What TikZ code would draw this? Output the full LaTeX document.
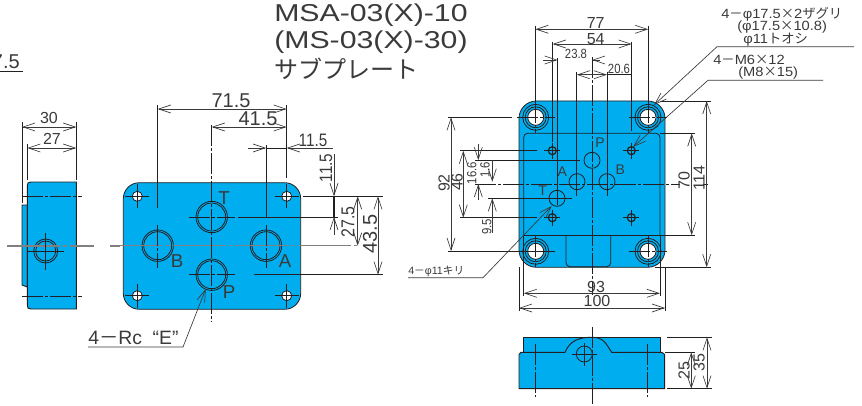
\documentclass[tikz,border=0pt]{standalone}
\usepackage{fontspec}
\setmainfont{Liberation Sans}
\newfontfamily\jpfont{Noto Sans CJK JP}
\newfontfamily\widefont[FakeStretch=1.24]{Liberation Sans}
\newfontfamily\notefont[FakeStretch=1.1]{Liberation Sans}
\newfontfamily\narrowfont[FakeStretch=.85]{Liberation Sans}
\usetikzlibrary{arrows.meta}
\definecolor{plateblue}{HTML}{00AEEF}
\definecolor{inkline}{HTML}{231F20}
\definecolor{dimgray}{HTML}{3A3A3A}
\definecolor{axisgray}{HTML}{808080}
\tikzset{
  plate/.style={fill=plateblue,draw=inkline,line width=0.7pt},
  outline/.style={draw=inkline,line width=0.6pt},
  dimline/.style={draw=dimgray,line width=0.5pt,
    <->,>={Straight Barb[length=9pt,width=6pt]}},
  oneway/.style={draw=dimgray,line width=0.5pt,
    ->,>={Straight Barb[length=9pt,width=6pt]}},
  extline/.style={draw=inkline,line width=0.55pt},
  axisline/.style={draw=inkline,line width=0.5pt,dash pattern=on 16pt off 1.5pt on 2pt off 1.5pt},
  grayaxis/.style={draw=axisgray,line width=0.8pt,dash pattern=on 40pt off 2pt on 3pt off 2pt},
  bigdim/.style={text=dimgray,inner sep=0pt,font=\fontsize{15}{15}\selectfont},
  middim/.style={text=dimgray,inner sep=0pt,font=\fontsize{12}{12}\selectfont},
  narrowdim/.style={text=dimgray,inner sep=0pt,font=\narrowfont\fontsize{13.5}{14}\selectfont},
  smalldim/.style={text=dimgray,inner sep=0pt,font=\narrowfont\fontsize{10}{10}\selectfont},
  porttag/.style={text=dimgray,inner sep=0pt,font=\fontsize{14}{14}\selectfont},
  facetag/.style={text=dimgray,inner sep=0pt,font=\fontsize{10.5}{11}\selectfont},
  titletext/.style={text=dimgray,inner sep=0pt,anchor=west,font=\widefont\fontsize{18.3}{20}\selectfont},
  notetext/.style={text=dimgray,inner sep=0pt,anchor=west,font=\notefont\fontsize{10}{10}\selectfont},
}
\begin{document}
\begin{tikzpicture}[x=0.75pt,y=-0.75pt]
  \useasboundingbox (0,0) rectangle (862,406);
  % title
  \node[titletext] (titlea) at (274,15) {MSA-03(X)-10};
  \node[titletext] (titleb) at (274,42) {(MS-03(X)-30)};
  \node[titletext,font=\jpfont\fontsize{18}{20}\selectfont] (titlec) at (274,69) {サブプレート};
  % cut off dimension at the left edge
  \node[bigdim,anchor=east] (cutdim) at (20,62) {7.5};
  \draw[extline] (0,71) -- (23,71);

  % side view
  \draw[plate] (27.3,205) -- (22,205) -- (22,285) -- (27.3,287) -- cycle;
  \draw[plate] (76.3,182) -- (31,182) .. controls (28,182) and (27.3,183) .. (27.3,186) -- (27.3,305) .. controls (27.3,308) and (28,309) .. (31,309) -- (76.3,309) -- cycle;
  \draw[outline] (45.7,251) circle [radius=12];
  \draw[outline] (45.7,251) circle [radius=10];
  \draw[extline] (22,122) -- (22,203);
  \draw[extline] (76.3,122) -- (76.3,180);
  \draw[extline] (27.3,144) -- (27.3,180);
  \draw[dimline] (22,127) -- (76.3,127);
  \draw[dimline] (27.3,148) -- (76.3,148);
  \node[middim] (sidea) at (49,118) {30};
  \node[middim] (sideb) at (52,139) {27};
  \draw[axisline] (22,196) -- (82,196);
  \draw[axisline] (22,296) -- (82,296);
  \draw[grayaxis] (7,246) -- (94,246);
  \draw[axisgray,line width=0.8pt] (110,246) -- (120,246);
  \draw[extline] (27,251) -- (64,251);
  \draw[extline] (45.7,233) -- (45.7,270);

  % front view with the four ports
  \fill[plateblue,rounded corners=12pt] (123.3,182.7) rectangle (300.7,309.3);
  \draw[outline,rounded corners=12pt] (123.3,182.7) rectangle (300.7,309.3);
  \foreach \x/\y in {211.7/217,211.7/274.7,157.7/245.7,266/245.7} {
    \draw[outline] (\x,\y) circle [radius=15.7];
    \draw[outline] (\x,\y) circle [radius=14];
  }
  \foreach \x/\y in {137.3/196.3,286.7/196.3,137.3/295.7,286.7/295.7} {
    \draw[outline,fill=white] (\x,\y) circle [radius=5];
    \draw[extline] (\x-12,\y) -- (\x+12,\y);
    \draw[extline] (\x,\y-12) -- (\x,\y+12);
  }
  \draw[grayaxis] (110,245.7) -- (357,245.7);
  \draw[axisline] (211.7,125) -- (211.7,322);
  \draw[axisline] (157.7,225) -- (157.7,268);
  \draw[axisline] (266,225) -- (266,268);
  \draw[extline] (157.7,105) -- (157.7,208);
  \draw[extline] (286.7,105) -- (286.7,178);
  \draw[extline] (266,145) -- (266,218);
  \draw[axisline] (189,217) -- (235,217);
  \draw[axisline] (189,274.7) -- (235,274.7);
  \draw[extline] (238,217) -- (338,217);
  \draw[extline] (254,274.7) -- (383,274.7);
  \draw[extline] (303,196.3) -- (383,196.3);
  \draw[dimline] (157.7,109) -- (286.7,109);
  \draw[dimline] (211.7,127) -- (286.7,127);
  \coordinate (leftfree) at (248,148);
  \coordinate (rightfree) at (332.7,148);
  \draw[oneway] (leftfree) -- (266,148);
  \draw[oneway] (rightfree) -- (286.7,148);
  \draw[extline] (266,148) -- (286.7,148);
  \node[bigdim] (fronta) at (231,101) {71.5};
  \node[bigdim] (frontb) at (258,119) {41.5};
  \node[narrowdim] (frontc) at (313,140) {11.5};
  \draw[oneway] (334,154) -- (334,196.3);
  \draw[oneway] (334,235) -- (334,217);
  \draw[inkline,line width=1pt] (334,196.3) -- (334,217);
  \draw[dimline] (357.7,196.3) -- (357.7,245.7);
  \draw[dimline] (378,196.3) -- (378,274.7);
  \node[narrowdim,rotate=90] (frontd) at (326,168) {11.5};
  \node[narrowdim,font=\narrowfont\fontsize{14}{14}\selectfont,rotate=90] (fronte) at (348,222) {27.5};
  \node[bigdim,rotate=90] (frontf) at (370,234) {43.5};
  \node[porttag] (tagT) at (224,198) {T};
  \node[porttag] (tagB) at (177,261) {B};
  \node[porttag] (tagA) at (285,261) {A};
  \node[porttag] (tagP) at (229,292) {P};
  \node[bigdim,anchor=west,font=\fontsize{14.5}{15}\selectfont] (rcnote) at (88,338) {4{\jpfont －}Rc\ \ “E”};
  \coordinate (rcstart) at (88,347);
  \coordinate (rcbend) at (183,347);
  \coordinate (rctip) at (205.7,289);
  \draw[oneway] (rcstart) -- (rcbend) -- (rctip);

  % mounting face
  \fill[plateblue,rounded corners=13pt] (519,101) rectangle (665,267.3);
  \draw[outline,rounded corners=13pt] (519,101) rectangle (665,267.3);
  \draw[outline,rounded corners=3pt] (523.7,235.3) -- (523.7,133.3) -- (660,133.3) -- (660,235.3);
  \draw[outline] (523.7,235.3) -- (660,235.3);
  \draw[outline,rounded corners=3pt] (566,235.3) -- (566,266.7) -- (610.7,266.7) -- (610.7,235.3);
  \foreach \x/\y in {535.7/117.3,648/117.3,535.7/251.3,648/251.3} {
    \draw[outline] (\x,\y) circle [radius=13];
    \draw[outline] (\x,\y) circle [radius=10.5];
    \draw[outline,fill=white] (\x,\y) circle [radius=8];
    \draw[axisline] (\x-19,\y) -- (\x+19,\y);
    \draw[axisline] (\x,\y-16) -- (\x,\y+16);
  }
  \foreach \x/\y in {552.3/150.7,631.3/150.7,552.3/217.7,631.3/217.7} {
    \draw[inkline,line width=0.9pt] (\x,\y) circle [radius=4];
    \draw[extline] (\x-8,\y) -- (\x+8,\y);
    \draw[extline] (\x,\y-8) -- (\x,\y+8);
  }
  \foreach \x/\y in {592/160.3,577/181.7,607/181.7,557/198.3} {
    \draw[outline] (\x,\y) circle [radius=8];
  }
  \node[facetag] (faceP) at (600,142.3) {P};
  \node[facetag] (faceA) at (562.3,171.7) {A};
  \node[facetag] (faceB) at (620.3,170) {B};
  \node[facetag] (faceT) at (542.7,191) {T};
  \draw[axisline] (592,57) -- (592,295);
  \draw[axisline] (475,184) -- (680,184);
  \draw[extline] (703,184) -- (708,184);
  % dimensions above
  \draw[extline] (535.3,26) -- (535.3,103);
  \draw[extline] (648.3,26) -- (648.3,103);
  \draw[extline] (552.7,42) -- (552.7,142);
  \draw[extline] (631.7,42) -- (631.7,131);
  \draw[extline] (557.7,58) -- (557.7,205);
  \draw[extline] (576.7,72) -- (576.7,196);
  \draw[extline] (607,72) -- (607,196);
  \draw[dimline] (535.3,29.3) -- (648.3,29.3);
  \draw[dimline] (552.7,44) -- (631.7,44);
  \draw[oneway] (543,60) -- (557.7,60);
  \draw[oneway] (600,60) -- (592,60);
  \draw[dimline] (576.7,74.7) -- (607,74.7);
  \draw[extline] (607,74.7) -- (631.7,74.7);
  \node[middim] (topa) at (595.7,23) {77};
  \node[middim] (topb) at (595.7,39) {54};
  \node[smalldim] (topc) at (576,54) {23.8};
  \node[smalldim] (topd) at (619,69) {20.6};
  % dimensions at the right
  \draw[extline] (660,101) -- (711,101);
  \draw[extline] (655,267.3) -- (711,267.3);
  \draw[extline] (660,133.3) -- (695,133.3);
  \draw[extline] (660,235.3) -- (695,235.3);
  \draw[dimline] (691.7,133.3) -- (691.7,235.3);
  \draw[dimline] (706.7,101) -- (706.7,267.3);
  \node[middim,rotate=90] (righta) at (684,180.7) {70};
  \node[middim,rotate=90] (rightb) at (699,178) {114};
  % dimensions below
  \draw[extline] (519,267) -- (519,311);
  \draw[extline] (665,267) -- (665,311);
  \draw[extline] (523.7,235) -- (523.7,296);
  \draw[extline] (660,235) -- (660,296);
  \draw[dimline] (523.7,293.3) -- (660,293.3);
  \draw[dimline] (519,308) -- (665,308);
  \node[middim] (bottoma) at (596,287) {93};
  \node[middim] (bottomb) at (597,301) {100};
  % dimensions at the left
  \draw[extline] (448,117.3) -- (512,117.3);
  \draw[extline] (448,251) -- (553,251);
  \draw[extline] (460,150.7) -- (537,150.7);
  \draw[extline] (460,217.7) -- (537,217.7);
  \draw[extline] (475,160.3) -- (580,160.3);
  \draw[extline] (488,198.3) -- (572,198.3);
  \draw[dimline] (451,117.3) -- (451,251);
  \draw[dimline] (463.3,150.7) -- (463.3,217.7);
  \draw[oneway] (478.3,144) -- (478.3,160.3);
  \draw[oneway] (478.3,200) -- (478.3,184);
  \draw[oneway] (492.3,160) -- (492.3,181.7);
  \draw[oneway] (492.3,233) -- (492.3,198.3);
  \node[middim,rotate=90] (lefta) at (444,183) {92};
  \node[middim,rotate=90] (leftb) at (457,182) {46};
  \node[smalldim,rotate=90] (leftc) at (471.7,173) {16.6};
  \node[smalldim,rotate=90] (leftd) at (485,170) {1.6};
  \node[smalldim,rotate=90] (lefte) at (486.7,226.7) {9.5};
  % notes with leaders
  \node[notetext] (notea) at (721,14) {4{\jpfont －}φ17.5{\jpfont ×}2{\jpfont ザグリ}};
  \node[notetext] (noteb) at (737,27) {(φ17.5{\jpfont ×}10.8)};
  \node[notetext] (notec) at (743,40) {φ11{\jpfont トオシ}};
  \coordinate (holefree) at (854,46.7);
  \coordinate (holebend) at (717,46.7);
  \coordinate (holetip) at (654,105);
  \draw[oneway] (holefree) -- (holebend) -- (holetip);
  \node[notetext] (noted) at (713,60) {4{\jpfont －}M6{\jpfont ×}12};
  \node[notetext] (notee) at (738,73) {(M8{\jpfont ×}15)};
  \coordinate (tapfree) at (823,80.3);
  \coordinate (tapbend) at (708,80.3);
  \coordinate (taptip) at (633,147);
  \draw[oneway] (tapfree) -- (tapbend) -- (taptip);
  \node[notetext,font=\fontsize{8}{9}\selectfont] (notef) at (408,271) {4{\jpfont －}φ11{\jpfont キリ}};
  \coordinate (drillfree) at (408,277.7);
  \coordinate (drillbend) at (483,277.7);
  \coordinate (drilltip) at (551.7,206);
  \draw[oneway] (drillfree) -- (drillbend) -- (drilltip);

  % end view
  \draw[plate] (523.3,352.3) -- (523.3,337.3) -- (660.7,337.3) -- (660.7,352.3) -- cycle;
  \draw[plate] (519,388.7) -- (519,354.5) -- (521,352.3) -- (565,352.3) .. controls (570,340) and (580,337.3) .. (592,337.3) .. controls (604,337.3) and (606,344) .. (611.7,352.3) -- (662,352.3) -- (664.7,354.5) -- (664.7,388.7) -- cycle;
  \draw[outline] (584.3,354) circle [radius=8];
  \draw[extline] (572,354) -- (597,354);
  \draw[extline] (584.3,343) -- (584.3,366);
  \draw[axisline] (592,327) -- (592,405);
  \draw[axisline] (535.7,344) -- (535.7,397);
  \draw[axisline] (647.7,344) -- (647.7,397);
  \draw[extline] (667,337.3) -- (712,337.3);
  \draw[extline] (665,352.3) -- (695,352.3);
  \draw[extline] (667,388.7) -- (712,388.7);
  \draw[dimline] (691.3,352.3) -- (691.3,388.7);
  \draw[dimline] (707,337.3) -- (707,388.7);
  \node[middim,rotate=90] (enda) at (684,370.7) {25};
  \node[middim,rotate=90] (endb) at (699,362.7) {35};
\end{tikzpicture}
\end{document}
